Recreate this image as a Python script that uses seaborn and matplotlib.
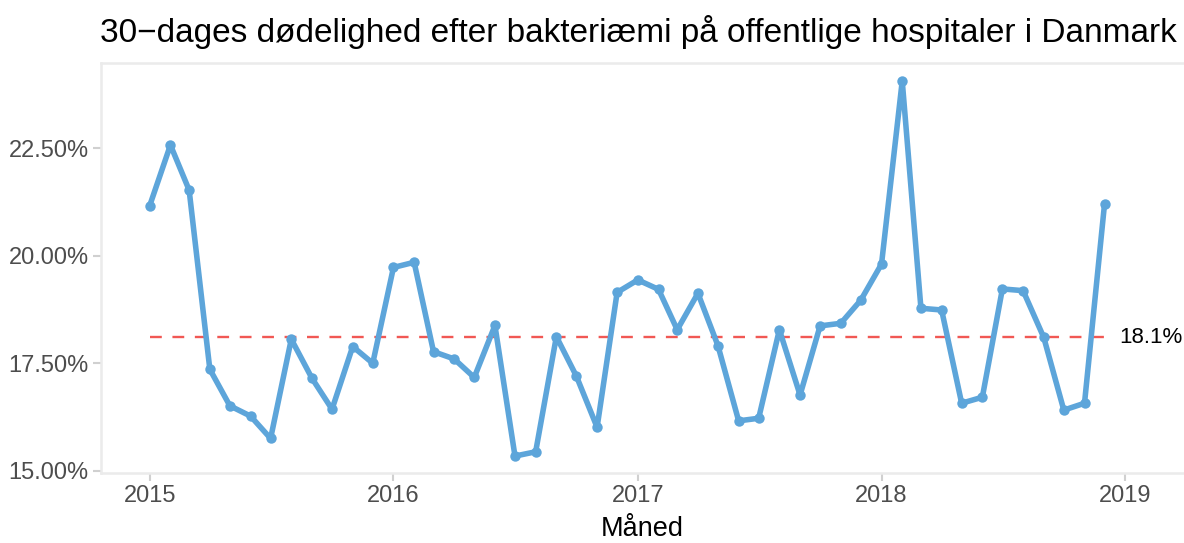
import pandas as pd
import numpy as np
import matplotlib
matplotlib.use("Agg")
import matplotlib.pyplot as plt
import matplotlib.dates as mdates
from matplotlib.ticker import FuncFormatter
import seaborn as sns

# Data: monthly 30-day mortality (%) after bacteraemia, Jan 2015 - Dec 2018
maaneder = pd.date_range("2015-01-01", "2018-12-01", freq="MS")
doedelighed_2015 = [21.17, 22.58, 21.53, 17.36, 16.51, 16.27, 15.75, 18.06, 17.15, 16.43, 17.89, 17.50]
doedelighed_2016 = [19.73, 19.85, 17.77, 17.60, 17.17, 18.38, 15.34, 15.44, 18.12, 17.20, 16.01, 19.15]
doedelighed_2017 = [19.44, 19.22, 18.28, 19.13, 17.91, 16.16, 16.22, 18.28, 16.76, 18.37, 18.43, 18.97]
doedelighed_2018 = [19.81, 24.07, 18.78, 18.74, 16.57, 16.71, 19.23, 19.19, 18.10, 16.41, 16.57, 21.21]
gennemsnit = 18.1
aars_ticks = ["2015", "2016", "2017", "2018", "2019"]
y_ticks = [15.0, 17.5, 20.0, 22.5]

df = pd.DataFrame({
    "Maaned": maaneder,
    "Doedelighed": doedelighed_2015 + doedelighed_2016 + doedelighed_2017 + doedelighed_2018,
})

sns.set_theme(style="white")
plt.rcParams["font.family"] = ["Liberation Sans", "DejaVu Sans"]

fig = plt.figure(figsize=(11.84, 5.43), dpi=100)
ax = fig.add_axes([101 / 1184, 70 / 543, 1 - 101 / 1184, (473 - 62.5) / 543])

blaa = "#5DA5DA"
roed = "#F15854"

# gennemsnitslinje
ax.plot([df["Maaned"].iloc[0], df["Maaned"].iloc[-1]], [gennemsnit, gennemsnit],
        color=roed, linestyle=(0, (5, 4.5)), linewidth=1.7, zorder=1)

sns.lineplot(data=df, x="Maaned", y="Doedelighed", ax=ax, color=blaa,
             linewidth=4.0, marker="o", markersize=7.5, markeredgewidth=0, zorder=2)

ax.text(pd.Timestamp("2018-12-23"), gennemsnit, f"{gennemsnit}%", ha="left", va="center",
        fontsize=16, color="black")

ax.set_xlim(pd.Timestamp("2014-10-20"), pd.Timestamp("2019-03-30"))
ax.set_ylim(14.946, 24.50)
ax.set_xticks([pd.Timestamp(f"{a}-01-01") for a in aars_ticks])
ax.set_xticklabels(aars_ticks)
ax.set_yticks(y_ticks)
ax.yaxis.set_major_formatter(FuncFormatter(lambda v, p: f"{v:.2f}%"))

ax.tick_params(axis="both", which="major", length=6, width=1.5, color="#D0D0D0",
               labelsize=17, labelcolor="#4D4D4D", pad=3, left=True, bottom=True)
ax.set_xlabel("Måned", fontsize=19.5, color="black", labelpad=6)
ax.set_ylabel("")

for side in ["top", "bottom", "left"]:
    ax.spines[side].set_color("#EBEBEB")
    ax.spines[side].set_linewidth(1.8)
ax.spines["right"].set_visible(False)
ax.grid(False)

fig.text(100 / 1184, 1 - 42 / 543, "30\u2212dages dødelighed efter bakteriæmi på offentlige hospitaler i Danmark",
         ha="left", va="baseline", fontsize=24, color="black")

fig.savefig("out.png", dpi=100, facecolor="white")
